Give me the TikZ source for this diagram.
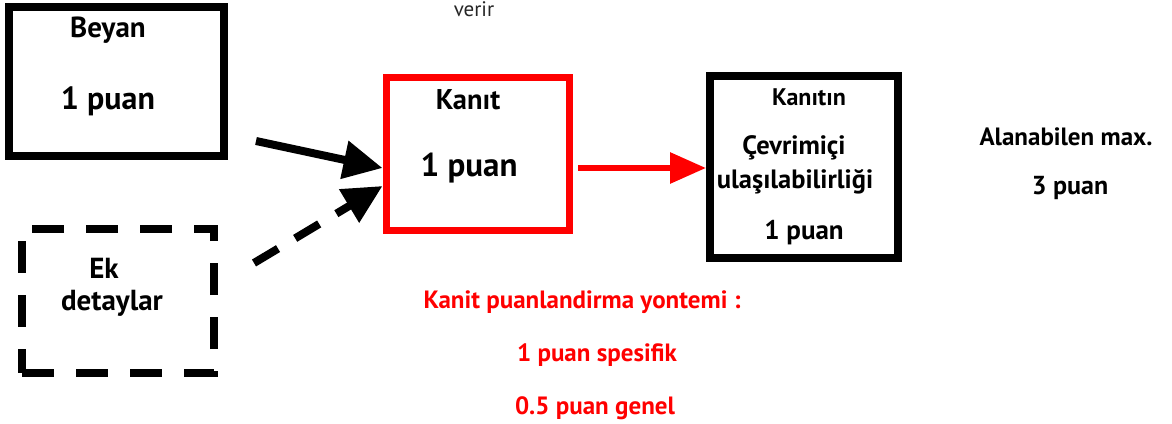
\documentclass[tikz,border=0pt]{standalone}
\usepackage{fontspec}
\setmainfont{PT Sans}
\usetikzlibrary{arrows.meta}
\newcommand{\boyut}[1]{\fontsize{#1}{#1}\selectfont}
\tikzset{
  kutu/.style={draw, line width=8pt, minimum width=#1, inner sep=0pt},
  yazi/.style={font=\bfseries\boyut{28}, inner sep=0pt},
  kirmiziyazi/.style={yazi, text=red, font=\bfseries\boyut{25}},
  okucu/.style={-{Triangle[length=39pt,width=37pt]}, line width=8pt}
}
\begin{document}
\begin{tikzpicture}[x=1pt,y=-1pt]
		\useasboundingbox (0,0) rectangle (1172,423);
		% Kutular
			\node[kutu=215pt, minimum height=149pt] (beyan) at (116.5,81.5) {};
			\node[kutu=192pt, minimum height=144pt, dash pattern=on 32pt off 22pt] (ek) at (118,301) {};
			\node[kutu=183pt, minimum height=153pt, draw=red, line width=7pt] (kanit) at (477.5,153.5) {};
			\node[kutu=188pt, minimum height=182pt] (erisim) at (804,167) {};

		% Kutu icindeki yazilar
			\node[yazi, font=\bfseries\boyut{29}] (beyanad) at (108,30) {Beyan};
			\node[yazi, font=\bfseries\boyut{32}] (beyanpuan) at (108,101) {1 puan};
			\node[yazi, font=\bfseries\boyut{29}] (ekad) at (104,268) {Ek};
			\node[yazi, font=\bfseries\boyut{29}] (ekdetay) at (112,303) {detaylar};
			\node[yazi, font=\bfseries\boyut{28.5}] (kanitad) at (468,100) {Kanıt};
			\node[yazi, font=\bfseries\boyut{33}] (kanitpuan) at (469,168) {1 puan};
			\node[yazi, font=\bfseries\boyut{24}] (erisimad) at (809,97) {Kanıtın};
			\node[yazi, font=\bfseries\boyut{26.5}] (erisim1) at (794,148) {Çevrimiçi};
			\node[yazi, font=\bfseries\boyut{26.5}] (erisim2) at (795,182) {ulaşılabilirliği};
			\node[yazi, font=\bfseries\boyut{27}] (erisimpuan) at (804,233) {1 puan};

		% Serbest yazilar
			\node[inner sep=0pt, text=black!85, font=\boyut{21}] (verir) at (474,9) {verir};
			\node[yazi, font=\bfseries\boyut{25}] (maks) at (1066,137) {Alanabilen max.};
			\node[yazi, font=\bfseries\boyut{26}] (maksp) at (1070,188) {3 puan};
			\node[kirmiziyazi] (yontem) at (582,302) {Kanit puanlandirma yontemi :};
			\node[kirmiziyazi] (spesifik) at (597,355) {1 puan spesifik};
			\node[kirmiziyazi] (genel) at (595,408) {0.5 puan genel};

		% Oklar
			\coordinate (beyanuc) at (256,141);
			\coordinate (ekuc) at (254,263);
			\coordinate (kanituc) at (578,168);
			\draw[okucu] (beyanuc) -- (kanit.west |- 0,168);
			\draw[okucu, dash pattern=on 28pt off 20pt] (ekuc) -- (kanit.west |- 0,186);
			\draw[-{Triangle[length=36pt,width=30pt]}, line width=6pt, red] (kanituc) -- (erisim.west |- kanituc);
	\end{tikzpicture}
\end{document}
